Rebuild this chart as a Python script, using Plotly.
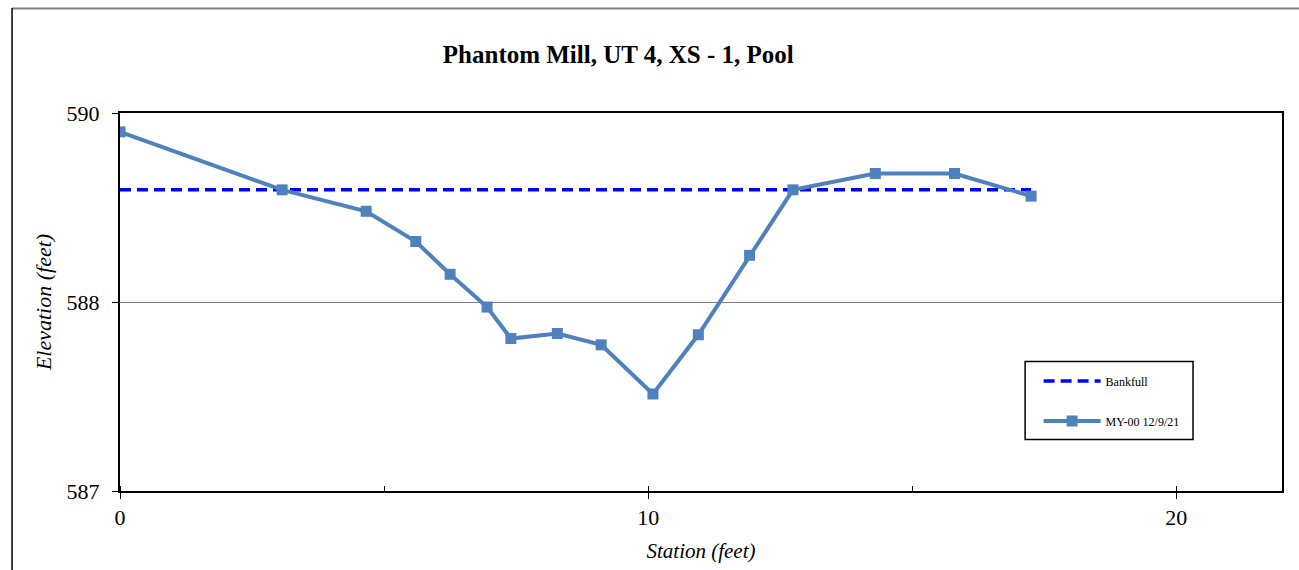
import plotly.graph_objects as go

# ---- data ----
station = [0, 3.07, 4.66, 5.60, 6.25, 6.95, 7.40, 8.28, 9.11, 10.09, 10.95, 11.92, 12.74, 14.30, 15.80, 17.25]
elevation = [589.85, 589.39, 589.22, 588.98, 588.72, 588.46, 588.21, 588.25, 588.16, 587.77, 588.24, 588.87, 589.39, 589.52, 589.52, 589.34]
bankfull_station = [0, 17.25]
bankfull_elev = [589.39, 589.39]
xtick_vals = [0, 10, 20]
xtick_text = ["0", "10", "20"]
ytick_vals = [587, 588.5, 590]
ytick_text = ["587", "588", "590"]

FONT = "Liberation Serif, Times New Roman, serif"

W, H = 1299, 570
L, R, T, B = 120, 1282.5, 113, 491
pw, ph = R - L, B - T


def px(x):
    return (x - L) / pw


def py(y):
    return (B - y) / ph


fig = go.Figure()
fig.add_trace(go.Scatter(
    x=bankfull_station, y=bankfull_elev, mode="lines", name="Bankfull",
    legendgroup="a",
    line=dict(color="#0000FF", width=3.5, dash="11px,6px"),
))
fig.add_trace(go.Scatter(
    x=station, y=elevation, mode="lines+markers", name="MY-00 12/9/21",
    legendgroup="b",
    line=dict(color="#4F81BD", width=4),
    marker=dict(symbol="square", size=11, color="#4F81BD"),
))

fig.update_layout(
    width=W, height=H,
    margin=dict(l=L, r=W - R, t=T, b=H - B, pad=0),
    paper_bgcolor="white", plot_bgcolor="white",
    font=dict(family=FONT, color="black"),
    title=dict(
        text="<b>Phantom Mill, UT 4, XS - 1, Pool</b>",
        font=dict(family=FONT, size=25, color="black"),
        xref="paper", x=px(618.5), xanchor="center",
        yref="container", y=1 - 54 / H, yanchor="middle",
    ),
    xaxis=dict(
        range=[0, 22], tickvals=xtick_vals, ticktext=xtick_text,
        ticks="outside", ticklen=6, tickwidth=1, tickcolor="black",
        minor=dict(dtick=5, tick0=0, ticks="inside", ticklen=5, tickcolor="black", tickwidth=1),
        showline=True, mirror=True, linecolor="black", linewidth=2,
        showgrid=False, zeroline=False,
        tickfont=dict(family=FONT, size=22, color="black"),
        title=dict(text="Station (feet)", font=dict(family=FONT, size=21, style="italic", color="black"), standoff=14),
    ),
    yaxis=dict(
        range=[587, 590], tickvals=ytick_vals, ticktext=ytick_text,
        ticks="outside", ticklen=6, tickwidth=1, tickcolor="black",
        ticklabelstandoff=8,
        showline=True, mirror=True, linecolor="black", linewidth=2,
        showgrid=True, gridcolor="#808080", gridwidth=1, zeroline=False,
        tickfont=dict(family=FONT, size=22, color="black"),
        title=dict(text="Elevation (feet)", font=dict(family=FONT, size=22, style="italic", color="black"), standoff=9),
    ),
    legend=dict(
        x=px(1039), y=py(366.5), xanchor="left", yanchor="top",
        bgcolor="rgba(0,0,0,0)", borderwidth=0,
        font=dict(family=FONT, size=12, color="black"),
        tracegroupgap=21, itemwidth=57,
    ),
    shapes=[
        dict(type="rect", xref="paper", yref="paper",
             x0=px(1025.5), x1=px(1193.5), y0=py(439.5), y1=py(361.5),
             line=dict(color="black", width=1.5), fillcolor="rgba(0,0,0,0)"),
        dict(type="line", xref="paper", yref="paper",
             x0=px(12), x1=px(1310), y0=py(8.5), y1=py(8.5),
             line=dict(color="#808080", width=2)),
        dict(type="line", xref="paper", yref="paper",
             x0=px(12), x1=px(12), y0=py(8), y1=py(580),
             line=dict(color="black", width=1.5)),
    ],
)

fig.write_html("out.html")
